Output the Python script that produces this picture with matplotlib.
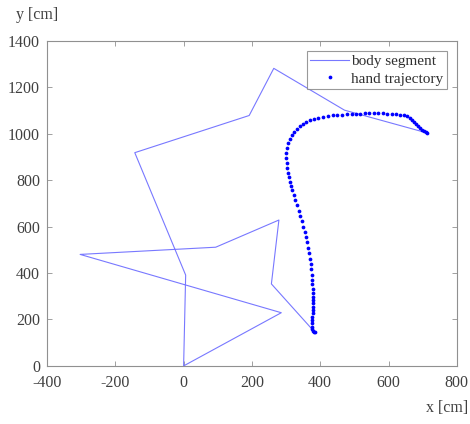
import matplotlib
matplotlib.use("Agg")
import matplotlib.pyplot as plt

plt.rcParams['font.family'] = ['Liberation Serif', 'DejaVu Serif']
plt.rcParams['axes.unicode_minus'] = False

# body segment polyline vertices (cm)
body_x = [710, 471, 264, 192, -143, 6, 0, 286, -303, 94, 279, 257, 378]
body_y = [1004, 1101, 1281, 1078, 918, 391, 0, 229, 480, 511, 628, 353, 155]

# hand trajectory points (cm)
hand_x = [385, 382.5, 379.5, 376.5, 375, 375, 375.6, 376.5, 377.6, 379.5, 379.5,
          379.5, 379.5, 378.6, 378.6, 377.6, 376.5, 376.5, 375, 373, 372, 370,
          368, 364, 361, 358, 354, 350, 345.5, 341, 337, 332, 327, 323, 317,
          314, 311, 308, 305, 303, 301.5, 300, 300, 302.5, 306, 311, 317, 324,
          332, 340.5, 349, 359, 370, 381.5, 394, 408, 421.5, 436, 450, 464,
          479, 494, 504.5, 517, 531, 543, 557, 570, 582.5, 596, 609, 621.5,
          633, 645, 654.6, 662.5, 668, 674, 680, 686, 692, 697.5, 703.5, 709, 713]
hand_y = [145, 148, 152, 158, 169, 184, 198, 212, 227, 241, 255,
          270, 284, 298, 316, 333, 352, 371, 393, 416, 439, 460,
          485, 509, 532, 555, 578, 600, 624, 647, 668, 692, 713, 735, 757,
          775, 793, 812, 832, 854, 875, 897, 918, 940, 960, 977, 993, 1008,
          1021, 1033, 1042, 1050, 1057, 1063, 1067, 1072, 1076, 1079, 1080, 1082,
          1083, 1085, 1086, 1086, 1088, 1088, 1088, 1088, 1088, 1086, 1085, 1083,
          1082, 1079, 1076, 1069, 1059, 1049, 1040, 1033, 1024, 1017, 1011, 1006, 1003]

x_ticks = [-400, -200, 0, 200, 400, 600, 800]
y_ticks = [0, 200, 400, 600, 800, 1000, 1200, 1400]

fig = plt.figure(figsize=(4.7, 4.24), dpi=100)
ax = fig.add_axes([0.1, 0.137, 0.872, 0.767])

ax.plot(body_x, body_y, color='#7878ff', lw=0.8, label='body segment')
ax.plot(hand_x, hand_y, linestyle='none', marker='o', markersize=2.7,
        color='#0000ff', markeredgewidth=0, label='hand trajectory')

ax.set_xlim(-400, 800)
ax.set_ylim(0, 1400)
ax.set_xticks(x_ticks)
ax.set_yticks(y_ticks)
ax.tick_params(direction='in', top=True, right=True, length=3.5, width=0.6,
               colors='#909090', labelcolor='#404040', labelsize=11.5)
ax.tick_params(axis='x', pad=6.5)
ax.tick_params(axis='y', pad=5)
for s in ax.spines.values():
    s.set_color('#909090')
    s.set_linewidth(0.8)

fig.text(0.033, 0.965, 'y [cm]', fontsize=11.5, color='#404040', ha='left', va='center')
fig.text(0.996, 0.037, 'x [cm]', fontsize=11.5, color='#404040', ha='right', va='center')

leg = ax.legend(loc='upper right', fontsize=11, frameon=True, fancybox=False,
                borderpad=0.25, handlelength=2.5, handletextpad=0.15,
                labelspacing=0.25, borderaxespad=0.65, markerscale=1.0)
leg.get_frame().set_edgecolor('#808080')
leg.get_frame().set_linewidth(0.8)
for t in leg.get_texts():
    t.set_color('#303030')

fig.savefig('out.png', dpi=100)
